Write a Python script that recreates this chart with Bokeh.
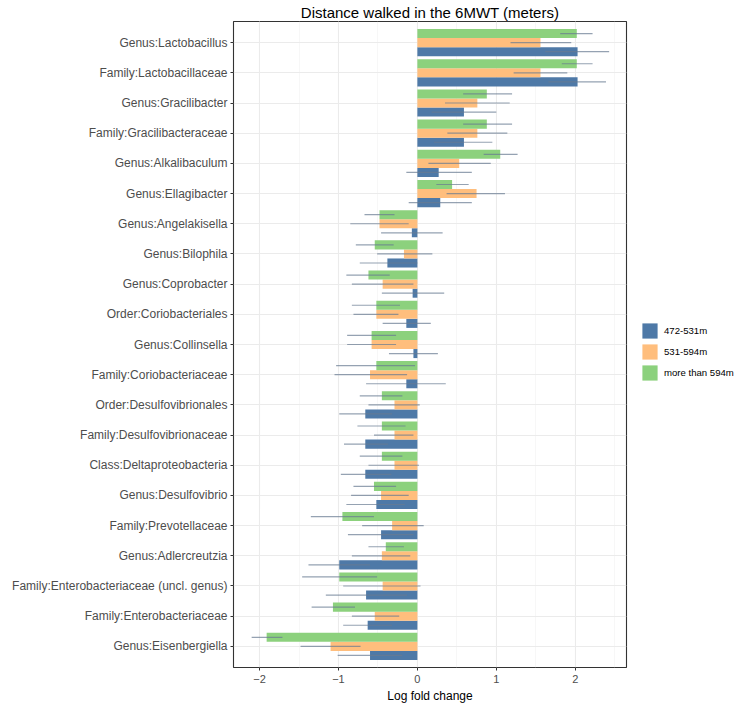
from bokeh.plotting import figure
from bokeh.layouts import row
from bokeh.models import (ColumnDataSource, FactorRange, Range1d, Legend, LegendItem,
                          SingleIntervalTicker)
from bokeh.transform import dodge
from bokeh.embed import file_html
from bokeh.resources import INLINE

categories = [
    "Genus:Lactobacillus", "Family:Lactobacillaceae", "Genus:Gracilibacter",
    "Family:Gracilibacteraceae", "Genus:Alkalibaculum", "Genus:Ellagibacter",
    "Genus:Angelakisella", "Genus:Bilophila", "Genus:Coprobacter",
    "Order:Coriobacteriales", "Genus:Collinsella", "Family:Coriobacteriaceae",
    "Order:Desulfovibrionales", "Family:Desulfovibrionaceae", "Class:Deltaproteobacteria",
    "Genus:Desulfovibrio", "Family:Prevotellaceae", "Genus:Adlercreutzia",
    "Family:Enterobacteriaceae (uncl. genus)", "Family:Enterobacteriaceae", "Genus:Eisenbergiella",
]
series_names = ["472-531m", "531-594m", "more than 594m"]

# 472-531m
v1 = [2.03, 2.03, 0.59, 0.59, 0.27, 0.29, -0.07, -0.38, -0.06, -0.14, -0.05, -0.14,
      -0.66, -0.66, -0.66, -0.52, -0.46, -0.99, -0.65, -0.63, -0.60]
lo1 = [1.62, 1.66, 0.18, 0.21, -0.14, -0.11, -0.46, -0.73, -0.45, -0.44, -0.36, -0.65,
       -0.99, -0.93, -0.97, -0.90, -0.88, -1.38, -1.16, -0.94, -1.01]
hi1 = [2.43, 2.39, 1.00, 0.95, 0.69, 0.69, 0.32, 0.00, 0.34, 0.17, 0.26, 0.36,
       -0.32, -0.37, -0.33, -0.16, -0.05, -0.60, -0.13, -0.32, -0.19]
# 531-594m
v2 = [1.56, 1.56, 0.76, 0.76, 0.53, 0.75, -0.48, -0.17, -0.44, -0.52, -0.58, -0.60,
      -0.29, -0.29, -0.29, -0.46, -0.32, -0.45, -0.44, -0.54, -1.10]
lo2 = [1.18, 1.22, 0.35, 0.38, 0.14, 0.37, -0.85, -0.51, -0.83, -0.81, -0.89, -1.05,
       -0.62, -0.55, -0.62, -0.84, -0.70, -0.83, -0.94, -0.83, -1.48]
hi2 = [1.95, 1.90, 1.17, 1.14, 0.93, 1.11, -0.11, 0.19, -0.05, -0.24, -0.27, -0.13,
       0.03, -0.05, 0.02, -0.11, 0.08, -0.09, 0.04, -0.23, -0.72]
# more than 594m
v3 = [2.02, 2.02, 0.88, 0.88, 1.05, 0.44, -0.48, -0.54, -0.62, -0.52, -0.58, -0.52,
      -0.45, -0.45, -0.45, -0.55, -0.95, -0.40, -0.99, -1.07, -1.91]
lo3 = [1.81, 1.83, 0.58, 0.58, 0.84, 0.24, -0.67, -0.78, -0.90, -0.83, -0.89, -1.03,
       -0.73, -0.76, -0.73, -0.81, -1.35, -0.62, -1.46, -1.34, -2.10]
hi3 = [2.22, 2.22, 1.20, 1.20, 1.27, 0.65, -0.29, -0.30, -0.35, -0.22, -0.27, -0.03,
       -0.19, -0.15, -0.19, -0.27, -0.55, -0.17, -0.51, -0.79, -1.71]

colors = ["#4E79A7", "#FFBE7D", "#8CD17D"]
offsets = [-0.3, 0.0, 0.3]

source = ColumnDataSource(dict(cat=categories, v1=v1, lo1=lo1, hi1=hi1,
                               v2=v2, lo2=lo2, hi2=hi2, v3=v3, lo3=lo3, hi3=hi3))

FW, FH = 393, 646
yr = FactorRange(factors=list(reversed(categories)), range_padding=0.2,
                 range_padding_units="absolute")
p = figure(frame_width=FW, frame_height=FH, y_range=yr, x_range=Range1d(-2.33, 2.65),
           output_backend="svg", toolbar_location=None,
           min_border_left=233, min_border_right=4, min_border_top=0, min_border_bottom=0)

FONT = "Liberation Sans"
p.title.text = "Distance walked in the 6MWT (meters)"
p.title.align = "center"
p.title.text_font = FONT
p.title.text_font_size = "15px"
p.title.text_font_style = "normal"
p.title.text_color = "#000000"
p.title.standoff = 2

for i, key in enumerate(["1", "2", "3"]):
    y = dodge("cat", offsets[i], range=yr)
    p.hbar(y=y, left=0, right="v" + key, height=0.3, source=source,
           fill_color=colors[i], line_color=None)
for i, key in enumerate(["1", "2", "3"]):
    y = dodge("cat", offsets[i], range=yr)
    p.segment(x0="lo" + key, x1="hi" + key, y0=y, y1=y, source=source,
              line_color="#687b91", line_alpha=0.7, line_width=1.2)

p.xaxis.ticker = SingleIntervalTicker(interval=1, num_minor_ticks=2)
p.xaxis.axis_label = "Log fold change"
p.xaxis.axis_label_text_font = FONT
p.xaxis.axis_label_text_font_size = "12px"
p.xaxis.axis_label_text_font_style = "normal"
p.xaxis.axis_label_text_color = "#000000"
p.xaxis.axis_label_standoff = 3

for ax in (p.xaxis[0], p.yaxis[0]):
    ax.axis_line_color = None
    ax.major_tick_line_color = "#333333"
    ax.major_tick_out = 3
    ax.major_tick_in = 0
    ax.minor_tick_line_color = None
    ax.major_label_text_font = FONT
    ax.major_label_text_color = "#4d4d4d"
    ax.major_label_standoff = 3
p.xaxis.major_label_text_font_size = "11px"
p.yaxis.major_label_text_font_size = "12px"

p.xgrid.grid_line_color = "#ebebeb"
p.xgrid.grid_line_width = 1.1
p.xgrid.minor_grid_line_color = "#f2f2f2"
p.xgrid.minor_grid_line_width = 0.6
p.ygrid.grid_line_color = "#ebebeb"
p.ygrid.grid_line_width = 1.1

p.outline_line_color = "#333333"
p.outline_line_width = 1.1
p.background_fill_color = "white"

# Legend panel: a small companion figure holding the legend (its renderers are hidden)
LW, LH = 107, 688
lg = figure(width=LW, height=LH, x_range=Range1d(-2.33, 2.65), y_range=yr,
            output_backend="svg", toolbar_location=None,
            min_border_left=0, min_border_right=0, min_border_top=0, min_border_bottom=0)
lg.axis.visible = False
lg.grid.visible = False
lg.outline_line_color = None
leg_renderers = []
for i, key in enumerate(["1", "2", "3"]):
    r = lg.hbar(y=dodge("cat", offsets[i], range=yr), left=0, right="v" + key, height=0.3,
                source=source, fill_color=colors[i], line_color=None)
    r.visible = False
    leg_renderers.append(r)

legend = Legend(items=[LegendItem(label=series_names[i], renderers=[leg_renderers[i]])
                       for i in range(3)],
                location=(10, 268), orientation="vertical")
legend.glyph_width = 19
legend.glyph_height = 19
legend.spacing = 2
legend.padding = 0
legend.margin = 0
legend.label_standoff = 5
legend.label_text_font = FONT
legend.label_text_font_size = "9.6px"
legend.label_text_color = "#000000"
legend.border_line_color = None
legend.background_fill_alpha = 0
legend.inactive_fill_alpha = 0
lg.add_layout(legend, "center")

layout = row(p, lg)
open("out.html", "w").write(file_html(layout, INLINE))
